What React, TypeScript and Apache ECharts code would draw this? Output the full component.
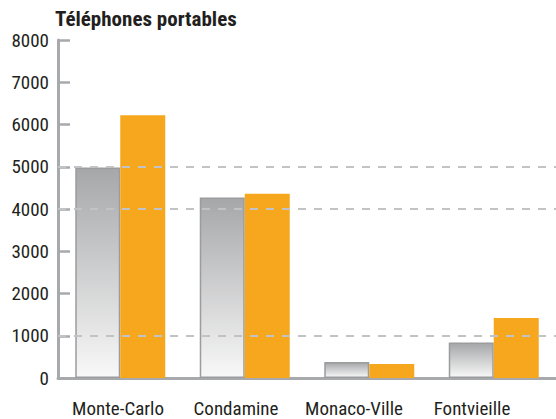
import React, { useEffect, useRef } from "react";
import * as echarts from "echarts";

const categories = ["Monte-Carlo", "Condamine", "Monaco-Ville", "Fontvieille"];
const seriesGray = [4980, 4270, 380, 840];
const seriesOrange = [6220, 4360, 330, 1420];
const gridLineValues = [1000, 4000, 5000];
const titleText = "Téléphones portables";

const FONT = "'Liberation Sans Narrow', 'Roboto Condensed', 'Arial Narrow', sans-serif";

export default function App() {
  const ref = useRef<HTMLDivElement>(null);
  useEffect(() => {
    if (!ref.current) return;
    const chart = echarts.init(ref.current, undefined, { renderer: "svg" });
    const axisColor = "#a7a9ac";
    chart.setOption({
      animation: false,
      backgroundColor: "#ffffff",
      title: {
        text: titleText,
        left: 55,
        top: 8,
        padding: 0,
        textStyle: { fontFamily: FONT, fontSize: 21, fontWeight: "bold", color: "#231f20" },
      },
      grid: [
        { left: 58, top: 40, height: 338, width: 509 },
        { left: 59, top: 40, height: 338, width: 472 },
      ],
      xAxis: [
        {
          type: "category",
          gridIndex: 0,
          data: categories,
          axisLine: { lineStyle: { color: axisColor, width: 3 } },
          axisTick: { show: false },
          axisLabel: { show: false },
        },
        {
          type: "category",
          gridIndex: 1,
          data: categories,
          axisLine: { show: false },
          axisTick: { show: false },
          axisLabel: { interval: 0, fontFamily: FONT, fontSize: 19, color: "#231f20", margin: 21 },
        },
      ],
      yAxis: [
        {
          type: "value",
          gridIndex: 0,
          min: 0,
          max: 8000,
          interval: 1000,
          axisLine: { show: true, lineStyle: { color: axisColor, width: 3 } },
          axisTick: { show: true, inside: true, length: 12, lineStyle: { color: axisColor, width: 2.5 } },
          splitLine: { show: false },
          axisLabel: {
            fontFamily: FONT,
            fontSize: 19,
            color: "#231f20",
            margin: 9,
            padding: [0, 0, 7, 0],
            formatter: (v: number) => String(v),
          },
        },
        {
          type: "value",
          gridIndex: 1,
          min: 0,
          max: 8000,
          show: false,
        },
      ],
      series: [
        {
          type: "line",
          xAxisIndex: 0,
          yAxisIndex: 0,
          data: [],
          z: 1,
          markLine: {
            silent: true,
            symbol: "none",
            label: { show: false },
            lineStyle: { color: "#c2c3c5", width: 2, type: [8, 8] },
            data: gridLineValues.map((v) => ({ yAxis: v })),
          },
        },
        {
          type: "bar",
          xAxisIndex: 0,
          yAxisIndex: 0,
          data: seriesGray,
          barWidth: 45,
          barGap: "0%",
          z: 3,
          itemStyle: {
            color: new echarts.graphic.LinearGradient(0, 0, 0, 1, [
              { offset: 0, color: "#a6a7a9" },
              { offset: 1, color: "#f8f8f8" },
            ]),
            borderColor: "#9b9c9e",
            borderWidth: 1.5,
          },
        },
        {
          type: "bar",
          xAxisIndex: 0,
          yAxisIndex: 0,
          data: seriesOrange,
          barWidth: 45,
          barGap: "0%",
          z: 3,
          itemStyle: { color: "#f7a71d" },
        },
      ],
    });
    return () => chart.dispose();
  }, []);
  return (
    <div
      ref={ref}
      style={{ position: "fixed", left: 0, top: 0, width: 556, height: 419, overflow: "hidden" }}
    />
  );
}
